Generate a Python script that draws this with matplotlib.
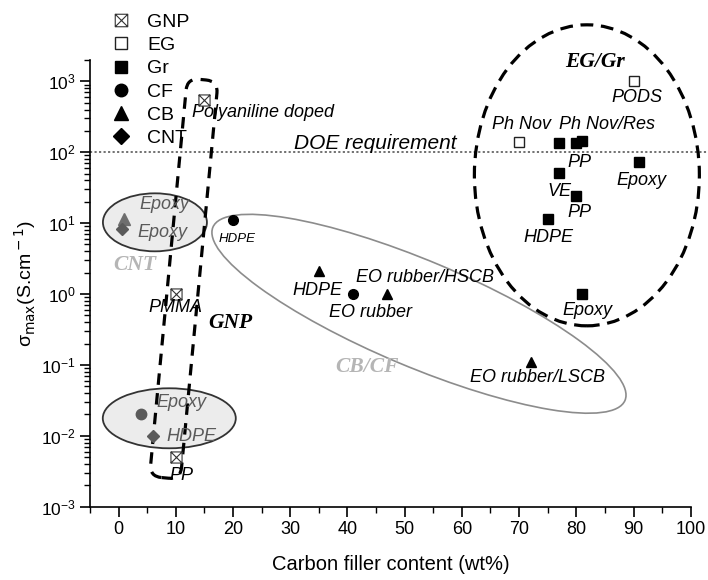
import numpy as np
import matplotlib
matplotlib.use("Agg")
import matplotlib.pyplot as plt
import matplotlib.transforms as mtransforms
from matplotlib.patches import Ellipse, FancyBboxPatch
from matplotlib.path import Path
from matplotlib.lines import Line2D

plt.rcParams['font.family'] = ['Liberation Sans', 'DejaVu Sans']

#==============
# data (wt%, S/cm)
#==============
gnp_x = [15, 10, 10]
gnp_y = [540, 1.0, 0.005]
eg_x = [70, 90]
eg_y = [138, 1000]
gr_x = [77, 80, 81, 91, 77, 80, 75, 81]
gr_y = [135, 133, 145, 73, 51, 24, 11.3, 1.0]
cf_x = [20, 41]
cf_y = [11, 1.0]
cb_x = [35, 47, 72]
cb_y = [2.1, 1.0, 0.11]
# grey points inside the CNT ovals
cnt_tri_x = [1]
cnt_tri_y = [11.5]
cnt_dia_x = [0.6, 6]
cnt_dia_y = [8.2, 0.01]
cnt_circ_x = [4]
cnt_circ_y = [0.02]
doe_level = 100
y_decades = [1e-3, 1e-2, 1e-1, 1e0, 1e1, 1e2, 1e3]

# (text, x, y)
black_labels = [
    ("Ph Nov", 70.5, 247), ("Ph Nov/Res", 85.4, 247), ("PODS", 90.6, 594),
    ("PP", 80.6, 72), ("Epoxy", 91.3, 40), ("VE", 77.0, 28.1), ("PP", 80.5, 14.2),
    ("HDPE", 75.2, 6.3), ("Epoxy", 81.9, 0.59), ("HDPE", 34.7, 1.13),
    ("EO rubber", 44.1, 0.552), ("EO rubber/HSCB", 53.5, 1.72),
    ("EO rubber/LSCB", 73.3, 0.0668), ("PMMA", 10.0, 0.649), ("PP", 10.9, 0.00277),
]
grey_labels = [
    ("Epoxy", 8.1, 18.4), ("Epoxy", 7.7, 7.4),
    ("Epoxy", 11.05, 0.0297), ("HDPE", 12.8, 0.00984),
]
group_labels = [
    ("EG/Gr", 83.3, 1855, 'black'), ("GNP", 19.5, 0.386, 'black'),
    ("CB/CF", 43.4, 0.0925, '#b5b5b5'), ("CNT", 2.8, 2.54, '#b5b5b5'),
]

#==============
# markers
#==============
gnp_marker = Path(
    [(-1, -1), (1, -1), (1, 1), (-1, 1), (-1, -1), (-1, -1), (1, 1), (-1, 1), (1, -1)],
    [Path.MOVETO, Path.LINETO, Path.LINETO, Path.LINETO, Path.CLOSEPOLY,
     Path.MOVETO, Path.LINETO, Path.MOVETO, Path.LINETO])

fig = plt.figure(figsize=(7.08, 5.8), dpi=100)
ax = fig.add_axes([0.1271, 0.1264, 0.8485, 0.7702])
ax.set_yscale('log')
ax.set_xlim(-5, 100)
ax.set_ylim(1e-3, 2e3)


def at(x, y):
    # place a shape (sizes in inches) centred on a data point
    return fig.dpi_scale_trans + mtransforms.ScaledTranslation(x, y, ax.transData)


# group outlines
ax.add_patch(Ellipse((0, 0), 1.04, 0.58, transform=at(6.35, 10**1.011),
                     fc='#ececec', ec='#333333', lw=1.3, zorder=1))
ax.add_patch(Ellipse((0, 0), 1.33, 0.60, transform=at(8.86, 10**-1.753),
                     fc='#ececec', ec='#333333', lw=1.3, zorder=1))
ax.add_patch(Ellipse((0, 0), 4.47, 1.06, angle=-22.8, transform=at(52.5, 10**-0.279),
                     fc='none', ec='#8c8c8c', lw=1.2, zorder=1, clip_on=False))
ax.add_patch(Ellipse((0, 0), 2.25, 3.01, transform=at(81.85, 10**1.674),
                     fc='none', ec='black', lw=2.3, ls=(0, (4.0, 2.4)), zorder=2,
                     clip_on=False))
gnp_box = FancyBboxPatch((-0.155, -2.0), 0.31, 4.0,
                         boxstyle="round,pad=0,rounding_size=0.12",
                         fc='none', ec='black', lw=2.3, ls=(0, (3.6, 2.6)), zorder=2,
                         clip_on=False)
gnp_box.set_transform(mtransforms.Affine2D().rotate_deg(-5.4) + at(11.4, 1.64))
ax.add_patch(gnp_box)

# DOE requirement line
ax.plot([0, 1.03], [doe_level, doe_level], transform=ax.get_yaxis_transform(),
        color='#666666', lw=1.3, ls=(0, (1.2, 1.3)), clip_on=False, zorder=1)
ax.text(44.8, 133, "DOE requirement", fontsize=15, style='italic', ha='center', va='center')

# points
ax.plot(gnp_x, gnp_y, ls='none', marker=gnp_marker, ms=8, mfc='white', mec='#333333',
        mew=0.8, zorder=4)
ax.plot(eg_x, eg_y, ls='none', marker='s', ms=7, mfc='white', mec='#222222', mew=1.0, zorder=4)
ax.plot(gr_x, gr_y, ls='none', marker='s', ms=6.5, color='black', zorder=4)
ax.plot(cf_x, cf_y, ls='none', marker='o', ms=7, color='black', zorder=4)
ax.plot(cb_x, cb_y, ls='none', marker='^', ms=7.5, color='black', zorder=4)
ax.plot(cnt_tri_x, cnt_tri_y, ls='none', marker='^', ms=8, color='#6e6e6e', zorder=4)
ax.plot(cnt_dia_x, cnt_dia_y, ls='none', marker='D', ms=6.5, color='#5a5a5a', zorder=4)
ax.plot(cnt_circ_x, cnt_circ_y, ls='none', marker='o', ms=7.5, color='#5a5a5a', zorder=4)

# labels
ax.text(12.8, 366, "Polyaniline doped", fontsize=13, style='italic', ha='left', va='center')
ax.text(20.7, 5.9, "HDPE", fontsize=9.5, style='italic', ha='center', va='center')
for txt, x, y in black_labels:
    ax.text(x, y, txt, fontsize=13, style='italic', ha='center', va='center', zorder=5)
for txt, x, y in grey_labels:
    ax.text(x, y, txt, fontsize=13, style='italic', ha='center', va='center',
            color='#5a5a5a', zorder=5)
for txt, x, y, c in group_labels:
    ax.text(x, y, txt, fontsize=15.5, style='italic', weight='bold', family='Liberation Serif',
            ha='center', va='center', color=c, zorder=5)

# axes styling
for s in ['top', 'right']:
    ax.spines[s].set_visible(False)
for s in ['left', 'bottom']:
    ax.spines[s].set_linewidth(1.2)
ax.set_xticks(np.arange(0, 101, 10))
ax.set_xticks(np.arange(-5, 100, 10), minor=True)
ax.xaxis.set_minor_formatter(plt.NullFormatter())
ax.set_yticks(y_decades)
ax.tick_params(which='major', direction='out', length=7, width=1.2)
ax.tick_params(which='minor', direction='out', length=4, width=1.0)
ax.tick_params(axis='x', labelsize=13)
ax.tick_params(axis='y', labelsize=12.5)
ax.set_xlabel("Carbon filler content (wt%)", fontsize=14.5, labelpad=12)
ax.set_ylabel(r"σ$_{\rm max}$(S.cm$^{\rm -1}$)", fontsize=14, labelpad=2)

# legend
handles = [
    Line2D([], [], ls='none', marker=gnp_marker, ms=9, mfc='white', mec='#333333', mew=0.8),
    Line2D([], [], ls='none', marker='s', ms=8, mfc='white', mec='#222222', mew=1.0),
    Line2D([], [], ls='none', marker='s', ms=8, color='black'),
    Line2D([], [], ls='none', marker='o', ms=9, color='black'),
    Line2D([], [], ls='none', marker='^', ms=10, color='black'),
    Line2D([], [], ls='none', marker='D', ms=8, color='black'),
]
fig.legend(handles, ["GNP", "EG", "Gr", "CF", "CB", "CNT"], loc='upper left',
           bbox_to_anchor=(0.157, 0.977), frameon=False, fontsize=14,
           handlelength=1.0, handletextpad=0.84, labelspacing=0.29,
           borderpad=0, borderaxespad=0)

fig.savefig("out.png", dpi=100)
